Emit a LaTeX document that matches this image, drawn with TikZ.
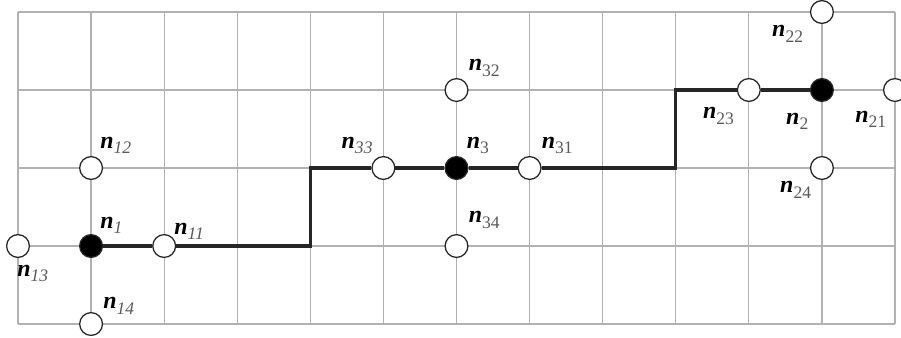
\documentclass[tikz,border=0pt]{standalone}
\usepackage{fontspec}
\setmainfont{Liberation Serif}
\tikzset{
  gridline/.style={black!30,line width=0.9pt},
  route/.style={black!85,line width=2.4pt,line join=miter},
  free/.style={circle,draw=black!85,fill=white,line width=0.9pt,minimum size=0.57cm,inner sep=0pt},
  held/.style={free,fill=black},
  lbl/.style={anchor=base west,inner sep=0pt,font=\fontsize{17}{17}\selectfont}
}
% label n with a lowered index
\newcommand{\nn}[1]{\textbf{\textit{n}}\raisebox{-4pt}{\color{black!65}\fontsize{12.5}{12.5}\selectfont #1}}

\begin{document}
\begin{tikzpicture}[x=1.827cm,y=-1.95cm]
  \useasboundingbox (-0.2463,-0.1538) rectangle (12.082,4.1667);
  % grid
  \foreach \i in {0,...,12}
    \draw[gridline] (\i,0) -- (\i,4);
  \foreach \j in {0,...,4}
    \draw[gridline] (0,\j) -- (12,\j);

  % first group
  \node[held] (n1) at (1,3) {};
  \node[free] (n11) at (2,3) {};
  \node[free] (n12) at (1,2) {};
  \node[free] (n13) at (0,3) {};
  \node[free] (n14) at (1,4) {};
  % third group
  \node[held] (n3) at (6,2) {};
  \node[free] (n31) at (7,2) {};
  \node[free] (n32) at (6,1) {};
  \node[free] (n33) at (5,2) {};
  \node[free] (n34) at (6,3) {};
  % second group
  \node[held] (n2) at (11,1) {};
  \node[free] (n21) at (12,1) {};
  \node[free] (n22) at (11,0) {};
  \node[free] (n23) at (10,1) {};
  \node[free] (n24) at (11,2) {};

  % route corners
  \coordinate (c1) at (4,3);
  \coordinate (c2) at (4,2);
  \coordinate (c3) at (9,2);
  \coordinate (c4) at (9,1);
  \draw[route] (n1) -- (n11) -- (c1) -- (c2) -- (n33) -- (n3) -- (n31)
    -- (c3) -- (c4) -- (n23) -- (n2);

  % labels
  \node[lbl] (l1) at ([shift={(0.225cm,0.45cm)}]n1) {\nn{\textit{1}}};
  \node[lbl] (l11) at ([shift={(0.25cm,0.3cm)}]n11) {\nn{\textit{11}}};
  \node[lbl] (l12) at ([shift={(0.225cm,0.5cm)}]n12) {\nn{\textit{12}}};
  \node[lbl] (l13) at ([shift={(-0.025cm,-0.75cm)}]n13) {\nn{\textit{13}}};
  \node[lbl] (l14) at ([shift={(0.3cm,0.38cm)}]n14) {\nn{\textit{14}}};
  \node[lbl] (l3) at ([shift={(0.25cm,0.5cm)}]n3) {\nn{3}};
  \node[lbl] (l31) at ([shift={(0.3cm,0.5cm)}]n31) {\nn{31}};
  \node[lbl] (l32) at ([shift={(0.3cm,0.48cm)}]n32) {\nn{32}};
  \node[lbl] (l33) at ([shift={(-1.05cm,0.5cm)}]n33) {\nn{\textit{33}}};
  \node[lbl] (l34) at ([shift={(0.3cm,0.58cm)}]n34) {\nn{34}};
  \node[lbl] (l2) at ([shift={(-0.9cm,-0.85cm)}]n2) {\nn{2}};
  \node[lbl] (l21) at ([shift={(-1.0cm,-0.8cm)}]n21) {\nn{21}};
  \node[lbl] (l22) at ([shift={(-1.25cm,-0.62cm)}]n22) {\nn{22}};
  \node[lbl] (l23) at ([shift={(-1.15cm,-0.72cm)}]n23) {\nn{23}};
  \node[lbl] (l24) at ([shift={(-1.05cm,-0.62cm)}]n24) {\nn{24}};
\end{tikzpicture}
\end{document}
